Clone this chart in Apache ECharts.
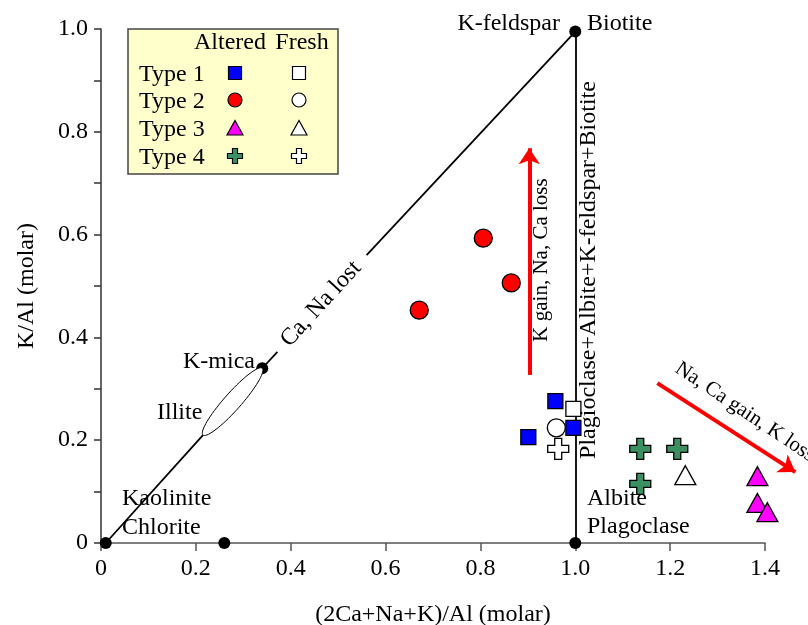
<!DOCTYPE html>
<html><head><meta charset="utf-8">
<script src="https://cdn.jsdelivr.net/npm/echarts@6/dist/echarts.min.js"></script>
<style>html,body{margin:0;padding:0;background:#fff}#c{width:808px;height:625px}</style>
</head><body><div id="c"></div>
<script>
// ---- data ----
const xTickLabels = ['0','0.2','0.4','0.6','0.8','1.0','1.2','1.4'];
const yTickLabels = ['0','0.2','0.4','0.6','0.8','1.0'];
const type1Altered = [[0.958,0.276],[0.901,0.206],[0.996,0.224]];
const type1Fresh   = [[0.996,0.261]];
const type2Altered = [[0.806,0.593],[0.865,0.506],[0.671,0.453]];
const type2Fresh   = [[0.960,0.224]];
const type3Altered = [[1.384,0.130],[1.384,0.078],[1.405,0.060]];
const type3Fresh   = [[1.232,0.132]];
const type4Altered = [[1.137,0.183],[1.215,0.183],[1.137,0.115]];
const type4Fresh   = [[0.964,0.183]];
const endMembers   = [[0.01,0],[0.26,0],[0.34,0.34],[1,0],[1,0.995]];
const boundarySegments = [
  [[0.01,0],[0.215,0.21]],
  [[0.34,0.34],[0.372,0.372]],
  [[0.56,0.56],[1,0.995]],
  [[1,0],[1,0.995]]
];
const trendArrows = [
  [[0.903,0.327],[0.903,0.768]],
  [[1.173,0.311],[1.464,0.138]]
];
const illiteField = [[0.215,0.21],[0.34,0.34]];

// ---- style ----
const FONT = '"Liberation Serif", "DejaVu Serif", serif';
const GREEN = '#3a9060';
const CROSS = 'path://M1,0H2V1H3V2H2V3H1V2H0V1H1Z';

const chart = echarts.init(document.getElementById('c'), null, {renderer:'canvas'});

function sc(name, data, symbol, size, fill){
  return {type:'scatter', name, data, symbol, symbolSize:size, z:5, clip:false,
    itemStyle:{color:fill, borderColor:'#000', borderWidth:1.3, opacity:1}};
}

const option = {
  animation:false,
  backgroundColor:'#fff',
  grid:{left:101, right:43, top:29, bottom:82, containLabel:false, outerBoundsMode:'none'},
  xAxis:{type:'value', min:0, max:1.4, interval:0.2,
    name:'(2Ca+Na+K)/Al (molar)', nameLocation:'middle', nameGap:60,
    nameTextStyle:{fontFamily:FONT, fontSize:24, color:'#000'},
    axisLine:{show:true, onZero:false, lineStyle:{color:'#555', width:1.5}},
    axisTick:{show:true, inside:false, length:8, lineStyle:{color:'#555', width:1.5}},
    axisLabel:{fontFamily:FONT, fontSize:24, color:'#000', margin:14,
      formatter:(v)=>xTickLabels[Math.round(v/0.2)] ?? ''},
    splitLine:{show:false}},
  yAxis:{type:'value', min:0, max:1.0, interval:0.1,
    name:'K/Al (molar)', nameLocation:'middle', nameGap:62,
    nameTextStyle:{fontFamily:FONT, fontSize:24, color:'#000'},
    axisLine:{show:true, onZero:false, lineStyle:{color:'#333', width:1.5}},
    axisTick:{show:true, inside:false, length:7, lineStyle:{color:'#333', width:1.5}},
    axisLabel:{fontFamily:FONT, fontSize:24, color:'#000', margin:13,
      formatter:(v)=>{const i=Math.round(v*10); return i%2===0 ? yTickLabels[i/2] : '';}},
    splitLine:{show:false}},
  series:[
    {type:'lines', coordinateSystem:'cartesian2d', polyline:false, clip:false, z:2,
      symbol:'none', lineStyle:{color:'#000', width:1.8, opacity:1},
      data: boundarySegments.map(s=>({coords:s}))},
    {type:'lines', coordinateSystem:'cartesian2d', polyline:false, clip:false, z:3,
      symbol:['none','arrow'], symbolSize:[14,16], lineStyle:{color:'#ff0000', width:4, opacity:1},
      data: trendArrows.map(s=>({coords:s}))},
    {type:'scatter', data:endMembers, symbol:'circle', symbolSize:12, z:4, clip:false,
      itemStyle:{color:'#000', opacity:1}},
    sc('Type 2 altered', type2Altered, 'circle', 18, '#ff0000'),
    sc('Type 1 altered', type1Altered, 'rect', 15, '#0000ff'),
    sc('Type 1 fresh', type1Fresh, 'rect', 15, '#ffffff'),
    sc('Type 4 fresh', type4Fresh, CROSS, 21, '#ffffff'),
    sc('Type 2 fresh', type2Fresh, 'circle', 18, '#ffffff'),
    sc('Type 4 altered', type4Altered, CROSS, 21, GREEN),
    sc('Type 3 fresh', type3Fresh, 'triangle', [21,19], '#ffffff'),
    sc('Type 3 altered', type3Altered, 'triangle', [21,19], '#ff00ff')
  ]
};
chart.setOption(option);

// ---- annotations ----
function txt(text, x, y, opts){
  opts = opts || {};
  return {type:'text', x, y, rotation:opts.rot||0, z:20,
    style:{text, fill:'#000', font:(opts.size||24)+'px '+FONT,
      align:opts.align||'left', verticalAlign:'middle'}};
}
const g = [];
g.push(txt('K-feldspar', 560, 24, {align:'right'}));
g.push(txt('Biotite', 587, 24));
g.push(txt('K-mica', 255, 362, {align:'right'}));
g.push(txt('Illite', 157, 413));
g.push(txt('Kaolinite', 122, 499));
g.push(txt('Chlorite', 122, 528));
g.push(txt('Albite', 587, 499));
g.push(txt('Plagoclase', 587, 527));
g.push(txt('Ca, Na lost', 321, 304, {align:'center', rot:0.829}));
g.push(txt('Plagioclase+Albite+K-feldspar+Biotite', 589, 270, {align:'center', rot:Math.PI/2}));
g.push(txt('K gain, Na, Ca loss', 541, 260, {align:'center', rot:Math.PI/2, size:21}));
g.push(txt('Na, Ca gain, K loss', 745, 412, {align:'center', rot:-0.59, size:21}));

// illite ellipse from data anchors
const p1 = chart.convertToPixel({gridIndex:0}, illiteField[0]);
const p2 = chart.convertToPixel({gridIndex:0}, illiteField[1]);
const cx=(p1[0]+p2[0])/2, cy=(p1[1]+p2[1])/2;
const rx=Math.hypot(p2[0]-p1[0], p2[1]-p1[1])/2, ry=8.5;
const ang=Math.atan2(p2[1]-p1[1], p2[0]-p1[0]);
const pts=[];
for(let i=0;i<72;i++){const t=i/72*Math.PI*2; const ex=rx*Math.cos(t), ey=ry*Math.sin(t);
  pts.push([cx+ex*Math.cos(ang)-ey*Math.sin(ang), cy+ex*Math.sin(ang)+ey*Math.cos(ang)]);}
g.push({type:'polygon', z:10, shape:{points:pts}, style:{fill:'#fff', stroke:'#000', lineWidth:1}});

// legend box
const L = {left:128, top:29, w:210, h:145, colA:235, colF:299, rows:[73,100,128,156]};
g.push({type:'rect', z:30, shape:{x:L.left, y:L.top, width:L.w, height:L.h},
  style:{fill:'#ffffcc', stroke:'#444', lineWidth:1.5}});
g.push(Object.assign(txt('Altered', 230, 43, {align:'center'}), {z:31}));
g.push(Object.assign(txt('Fresh', 302, 43, {align:'center'}), {z:31}));
const names=['Type 1','Type 2','Type 3','Type 4'];
names.forEach((n,i)=>g.push(Object.assign(txt(n, 139, L.rows[i]+2), {z:31})));
function legendMarker(kind, x, y, fill){
  const st={fill, stroke:'#000', lineWidth:1.2};
  if(kind==='rect') return {type:'rect', z:31, shape:{x:x-6.5,y:y-6.5,width:13,height:13}, style:st};
  if(kind==='circle') return {type:'circle', z:31, shape:{cx:x,cy:y,r:7}, style:st};
  if(kind==='tri') return {type:'polygon', z:31, shape:{points:[[x,y-7.5],[x+8,y+7],[x-8,y+7]]}, style:st};
  const a=7.5, b=2.5;
  return {type:'polygon', z:31, shape:{points:[[x-b,y-a],[x+b,y-a],[x+b,y-b],[x+a,y-b],[x+a,y+b],[x+b,y+b],[x+b,y+a],[x-b,y+a],[x-b,y+b],[x-a,y+b],[x-a,y-b],[x-b,y-b]]}, style:st};
}
const kinds=['rect','circle','tri','cross'];
const fills=['#0000ff','#ff0000','#ff00ff',GREEN];
kinds.forEach((k,i)=>{
  g.push(legendMarker(k, L.colA, L.rows[i], fills[i]));
  g.push(legendMarker(k, L.colF, L.rows[i], '#ffffff'));
});

chart.setOption({graphic:{elements:g}});
</script>
</body></html>
